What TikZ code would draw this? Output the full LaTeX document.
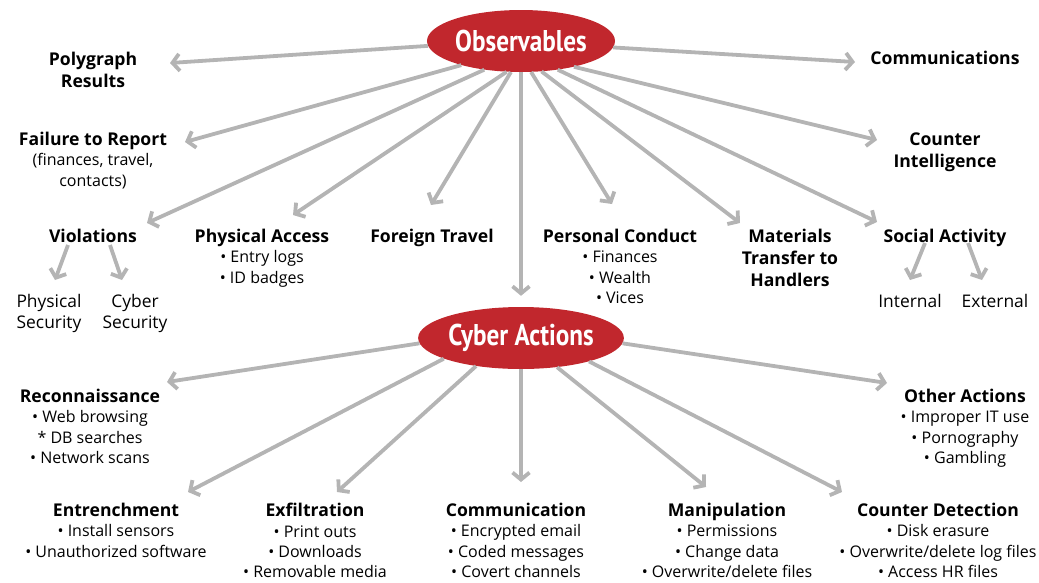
\documentclass[tikz,border=0pt]{standalone}
\usepackage{fontspec}
\setmainfont{Open Sans}
\newfontfamily\titlefont[FakeStretch=0.84]{PT Sans}
\usetikzlibrary{arrows.meta,shapes.geometric}

\definecolor{hubred}{HTML}{C1272D}
\definecolor{arrowgray}{HTML}{B4B4B4}

% heading line of a label block
\newcommand\hd[1]{{\fontsize{17.6}{20.4}\selectfont\bfseries #1}}

\tikzset{
  hub/.style={ellipse, fill=hubred, text=white, minimum width=188pt,
    minimum height=62pt, inner sep=0pt,
    font=\titlefont\bfseries\fontsize{30}{30}\selectfont},
  arr/.style={draw=arrowgray, line width=3.8pt,
    -{Straight Barb[length=7pt,width=17pt]}},
  lbl/.style={anchor=north, align=center, inner sep=0pt,
    font=\fontsize{16}{20.4}\selectfont},
  lbltwo/.style={lbl, font=\fontsize{16}{22}\selectfont},
  sublbl/.style={lbl, font=\fontsize{17.4}{21}\selectfont},
}

\begin{document}
\begin{tikzpicture}[x=1pt,y=-1pt]
\useasboundingbox (0,0) rectangle (1039,582);

% hubs
\node[hub] (obs) at (521,41) {Observables};
\node[hub] (cyb) at (521,338) {Cyber Actions};

% observable categories
\node[lbltwo] (poly) at (93,52) {\hd{Polygraph}\\\hd{Results}};
\node[lbl] (fail) at (93,132) {\hd{Failure to Report}\\(finances, travel,\\contacts)};
\node[lbl] (viol) at (93,229) {\hd{Violations}};
\node[sublbl] (physsec) at (49,294) {Physical\\Security};
\node[sublbl] (cybsec) at (135,294) {Cyber\\Security};
\node[lbl] (pacc) at (262,229) {\hd{Physical Access}\\• Entry logs\\• ID badges};
\node[lbl] (ftrav) at (432,229) {\hd{Foreign Travel}};
\node[lbl] (pcond) at (620,229) {\hd{Personal Conduct}\\• Finances\\• Wealth\\• Vices};
\node[lbltwo] (mat) at (790,229) {\hd{Materials}\\\hd{Transfer to}\\\hd{Handlers}};
\node[lbl] (soc) at (945,229) {\hd{Social Activity}};
\node[sublbl] (intl) at (910,294) {Internal};
\node[sublbl] (extl) at (995,294) {External};
\node[lbl] (comms) at (945,51) {\hd{Communications}};
\node[lbltwo] (cint) at (945,133) {\hd{Counter}\\\hd{Intelligence}};

% cyber action categories
\node[lbl] (recon) at (90,389) {\hd{Reconnaissance}\\• Web browsing\\* DB searches\\• Network scans};
\node[lbl] (other) at (965,389) {\hd{Other Actions}\\• Improper IT use\\• Pornography\\• Gambling};
\node[lbl] (entr) at (116,503) {\hd{Entrenchment}\\• Install sensors\\• Unauthorized software};
\node[lbl] (exf) at (315,503) {\hd{Exfiltration}\\• Print outs\\• Downloads\\• Removable media};
\node[lbl] (comm) at (516,503) {\hd{Communication}\\• Encrypted email\\• Coded messages\\• Covert channels};
\node[lbl] (manip) at (727,503) {\hd{Manipulation}\\• Permissions\\• Change data\\• Overwrite/delete files};
\node[lbl] (cdet) at (938,503) {\hd{Counter Detection}\\• Disk erasure\\• Overwrite/delete log files\\• Access HR files};

% arrow tips
\coordinate (tpoly) at (170,63);
\coordinate (tfail) at (185,142);
\coordinate (tviol) at (147,223);
\coordinate (tpacc) at (293,215);
\coordinate (tftrav) at (431,205);
\coordinate (tpcond) at (612,204);
\coordinate (tmat) at (740,223);
\coordinate (tsoc) at (877,222);
\coordinate (tcint) at (877,140);
\coordinate (tcomms) at (855,62);
\coordinate (trecon) at (167,382);
\coordinate (tentr) at (188,492);
\coordinate (texf) at (337,492);
\coordinate (tcomm) at (521,482);
\coordinate (tmanip) at (706,487);
\coordinate (tcdet) at (842,492);
\coordinate (tother) at (887,383);
\coordinate (tphyssec) at (55,280);
\coordinate (tcybsec) at (122,280);
\coordinate (tintl) at (910,280);
\coordinate (textl) at (982,280);

% observables fan-out
\draw[arr] (obs.-177) -- (tpoly);
\draw[arr] (obs.-158) -- (tfail);
\draw[arr] (obs.-142) -- (tviol);
\draw[arr] (obs.-115) -- (tpacc);
\draw[arr] (obs.-108) -- (tftrav);
\draw[arr] (obs.-72) -- (tpcond);
\draw[arr] (obs.-56) -- (tmat);
\draw[arr] (obs.-38) -- (tsoc);
\draw[arr] (obs.-26) -- (tcint);
\draw[arr] (obs.-4) -- (tcomms);
\draw[arr, shorten >=11pt] (obs) -- (cyb);

% cyber actions fan-out
\draw[arr] (cyb.-177.5) -- (trecon);
\draw[arr] (cyb.-165) -- (tentr);
\draw[arr] (cyb.-148) -- (texf);
\draw[arr] (cyb.south) -- (tcomm);
\draw[arr] (cyb.-39) -- (tmanip);
\draw[arr] (cyb.-19) -- (tcdet);
\draw[arr] (cyb.-3) -- (tother);

% sub-categories
\draw[arr] ([shift={(-25,16)}]viol.north) -- (tphyssec);
\draw[arr] ([shift={(17,16)}]viol.north) -- (tcybsec);
\draw[arr] ([shift={(-20,14)}]soc.north) -- (tintl);
\draw[arr] ([shift={(23,14)}]soc.north) -- (textl);
\end{tikzpicture}
\end{document}
